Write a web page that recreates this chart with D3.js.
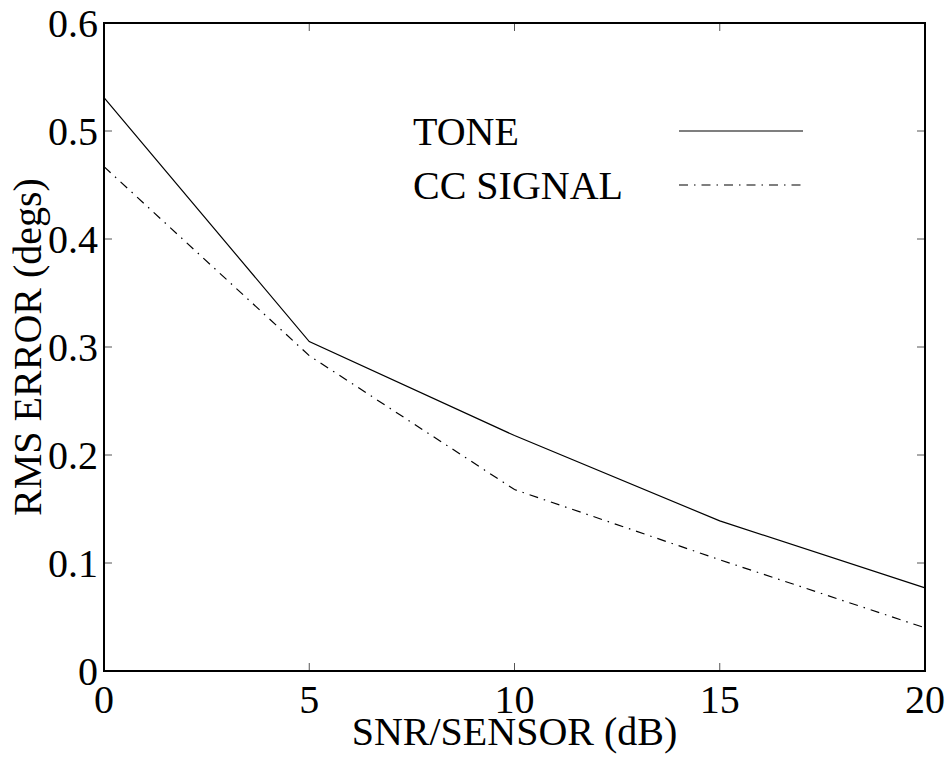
<!DOCTYPE html>
<html>
<head>
<meta charset="utf-8">
<script src="https://cdn.jsdelivr.net/npm/d3@7"></script>
<style>
	body { margin: 0; background: #fff; }
	text { font-family: "Liberation Serif", "Times New Roman", serif; fill: #000; }
</style>
</head>
<body>
<script>
const snr = [0, 5, 10, 15, 20];
const tone = [0.531, 0.305, 0.218, 0.139, 0.077];
const ccSignal = [0.467, 0.292, 0.168, 0.103, 0.040];
const xTicks = [0, 5, 10, 15, 20];
const yTicks = [0, 0.1, 0.2, 0.3, 0.4, 0.5, 0.6];
const seriesNames = ["TONE", "CC SIGNAL"];

const width = 951, height = 758;
const margin = { left: 104, right: 26, top: 23, bottom: 87 };
const fontSize = 40;

const svg = d3.select("body").append("svg")
	.attr("width", width)
	.attr("height", height);

const x = d3.scaleLinear().domain([0, 20]).range([margin.left, width - margin.right]);
const y = d3.scaleLinear().domain([0, 0.6]).range([height - margin.bottom, margin.top]);

const tickLen = 8;

// inward ticks on all four sides
const ticks = svg.append("g").attr("stroke", "#555").attr("stroke-width", 1);
xTicks.forEach(t => {
	ticks.append("line").attr("x1", x(t)).attr("x2", x(t)).attr("y1", y(0)).attr("y2", y(0) - tickLen);
	ticks.append("line").attr("x1", x(t)).attr("x2", x(t)).attr("y1", y(0.6)).attr("y2", y(0.6) + tickLen);
});
yTicks.forEach(t => {
	ticks.append("line").attr("x1", x(0)).attr("x2", x(0) + tickLen).attr("y1", y(t)).attr("y2", y(t));
	ticks.append("line").attr("x1", x(20)).attr("x2", x(20) - tickLen).attr("y1", y(t)).attr("y2", y(t));
});

// tick labels
svg.append("g").selectAll("text").data(xTicks).enter().append("text")
	.attr("x", d => x(d))
	.attr("y", y(0) + 42)
	.attr("text-anchor", "middle")
	.attr("font-size", fontSize)
	.text(d => d);

svg.append("g").selectAll("text").data(yTicks).enter().append("text")
	.attr("x", x(0) - 6)
	.attr("y", d => y(d) + 14)
	.attr("text-anchor", "end")
	.attr("font-size", fontSize)
	.text(d => d === 0 ? "0" : d3.format(".1f")(d));

// axis titles
svg.append("text")
	.attr("x", (x(0) + x(20)) / 2)
	.attr("y", 745)
	.attr("text-anchor", "middle")
	.attr("font-size", fontSize)
	.text("SNR/SENSOR (dB)");

svg.append("text")
	.attr("transform", `translate(41,${(y(0) + y(0.6)) / 2}) rotate(-90)`)
	.attr("text-anchor", "middle")
	.attr("font-size", fontSize)
	.text("RMS ERROR (degs)");

// data lines
const line = d3.line().x((d, i) => x(snr[i])).y(d => y(d));

svg.append("path").datum(tone)
	.attr("d", line)
	.attr("fill", "none")
	.attr("stroke", "#000")
	.attr("stroke-width", 1.2);

svg.append("path").datum(ccSignal)
	.attr("d", line)
	.attr("fill", "none")
	.attr("stroke", "#000")
	.attr("stroke-width", 1.2)
	.attr("stroke-dasharray", "9,6,1.5,6");

// legend
const legend = svg.append("g");
const legendY = [131, 185];
const dashes = [null, "9,6,1.5,6"];
seriesNames.forEach((name, i) => {
	legend.append("text")
		.attr("x", 413)
		.attr("y", legendY[i] + 14)
		.attr("font-size", fontSize)
		.text(name);
	legend.append("line")
		.attr("x1", 679).attr("x2", 803)
		.attr("y1", legendY[i]).attr("y2", legendY[i])
		.attr("stroke", "#000")
		.attr("stroke-width", 1.2)
		.attr("stroke-dasharray", dashes[i]);
});

// frame
svg.append("rect")
	.attr("x", x(0)).attr("y", y(0.6))
	.attr("width", x(20) - x(0)).attr("height", y(0) - y(0.6))
	.attr("fill", "none")
	.attr("stroke", "#000")
	.attr("stroke-width", 2);
</script>
</body>
</html>
